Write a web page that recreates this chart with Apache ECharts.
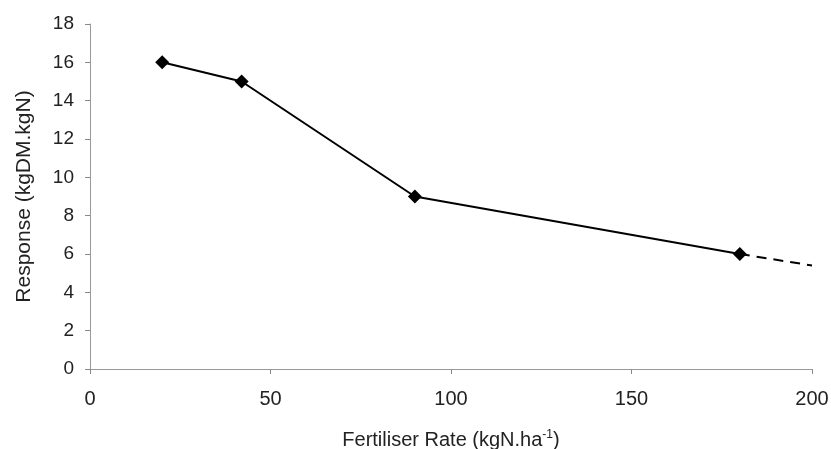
<!DOCTYPE html>
<html><head><meta charset="utf-8">
<script src="https://cdn.jsdelivr.net/npm/echarts@6/dist/echarts.min.js"></script>
<style>html,body{margin:0;padding:0;background:#fff}#c{width:831px;height:449px}</style>
</head><body><div id="c"></div>
<script>
const rates = [20, 42, 90, 180];
const responses = [16, 15, 9, 6];
const extRates = [180, 200];
const extResponses = [6, 5.4];
const xTicks = [0, 50, 100, 150, 200];
const yTicks = [0, 2, 4, 6, 8, 10, 12, 14, 16, 18];

const chart = echarts.init(document.getElementById('c'));
const font = 'Liberation Sans, Arial, sans-serif';
chart.setOption({
  animation: false,
  backgroundColor: '#fff',
  grid: {left: 90, right: 19, top: 24, bottom: 80, containLabel: false, outerBoundsMode: 'none'},
  xAxis: {
    type: 'value', min: xTicks[0], max: xTicks[xTicks.length-1], interval: 50,
    axisLine: {show: true, lineStyle: {color: '#999', width: 1}},
    axisTick: {show: true, length: 5, lineStyle: {color: '#888'}},
    splitLine: {show: false},
    axisLabel: {color: '#222', fontSize: 20, fontFamily: font, margin: 20},
    name: 'Fertiliser Rate (kgN.ha{sup|-1})',
    nameLocation: 'middle', nameGap: 60,
    nameTextStyle: {color: '#222', fontSize: 20, fontFamily: font,
      rich: {sup: {fontSize: 12, verticalAlign: 'top', padding: [0,0,10,0], color: '#222', fontFamily: font}}}
  },
  yAxis: {
    type: 'value', min: yTicks[0], max: yTicks[yTicks.length-1], interval: 2,
    axisLine: {show: true, lineStyle: {color: '#999', width: 1}},
    axisTick: {show: true, length: 5, lineStyle: {color: '#888'}},
    splitLine: {show: false},
    axisLabel: {color: '#222', fontSize: 19, fontFamily: font, margin: 16},
    name: 'Response (kgDM.kgN)',
    nameLocation: 'middle', nameGap: 55, nameRotate: 90,
    nameTextStyle: {color: '#222', fontSize: 21, fontFamily: font}
  },
  series: [
    {
      type: 'line',
      data: rates.map((r, i) => [r, responses[i]]),
      symbol: 'diamond', symbolSize: 14,
      lineStyle: {color: '#000', width: 2},
      itemStyle: {color: '#000'}
    },
    {
      type: 'line',
      data: extRates.map((r, i) => [r, extResponses[i]]),
      symbol: 'none',
      lineStyle: {color: '#000', width: 2, type: [10, 7]}
    }
  ]
});
</script></body></html>
